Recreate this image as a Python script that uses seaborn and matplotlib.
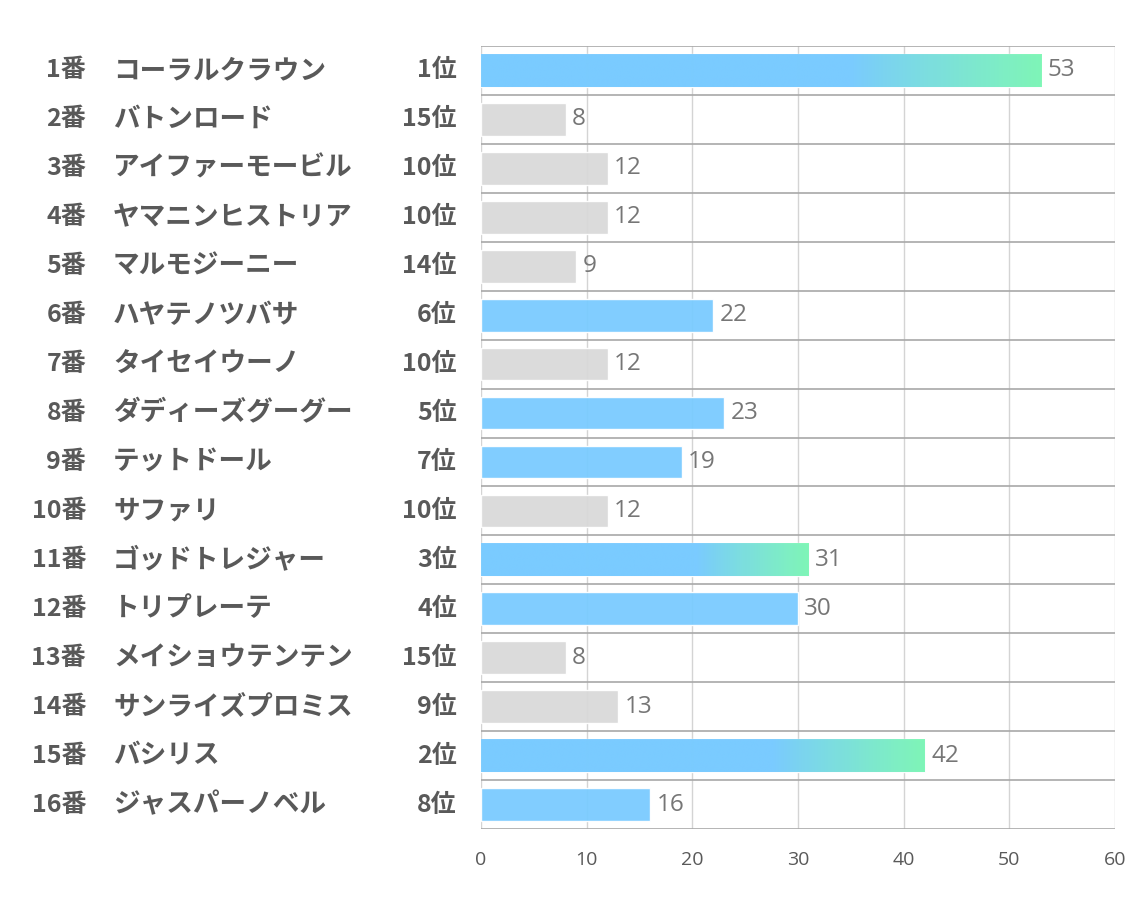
import numpy as np
import pandas as pd
import matplotlib
matplotlib.use('Agg')
import matplotlib.pyplot as plt
import matplotlib.colors as mcolors
import seaborn as sns

# データ
umaban = ['1番', '2番', '3番', '4番', '5番', '6番', '7番', '8番',
          '9番', '10番', '11番', '12番', '13番', '14番', '15番', '16番']
names = ['コーラルクラウン', 'バトンロード', 'アイファーモービル', 'ヤマニンヒストリア',
         'マルモジーニー', 'ハヤテノツバサ', 'タイセイウーノ', 'ダディーズグーグー',
         'テットドール', 'サファリ', 'ゴッドトレジャー', 'トリプレーテ',
         'メイショウテンテン', 'サンライズプロミス', 'バシリス', 'ジャスパーノベル']
ranks = [1, 15, 10, 10, 14, 6, 10, 5, 7, 10, 3, 4, 15, 9, 2, 8]
values = [53, 8, 12, 12, 9, 22, 12, 23, 19, 12, 31, 30, 8, 13, 42, 16]
x_ticks = [0, 10, 20, 30, 40, 50, 60]

df = pd.DataFrame({'umaban': umaban, 'name': names, 'rank': ranks, 'value': values})
df['group'] = np.where(df['rank'] <= 8, 'top', 'other')

sns.set_style('white')
plt.rcParams['font.family'] = ['Noto Sans CJK JP', 'DejaVu Sans']

BLUE = '#7ACBFF'
GRAY = '#D9D9D9'
GREEN = '#7FF8B4'

fig = plt.figure(figsize=(11.34, 9.07), dpi=100)
ax = fig.add_axes([481 / 1134, 1 - 829 / 907, 634 / 1134, 783 / 907])

# グリッド線
for x in x_ticks:
    ax.axvline(x, color='#D4D4D4', lw=1, zorder=0)
for i in range(len(df) + 1):
    ax.axhline(i - 0.5, color='#A8A8A8', lw=1.2, zorder=0)

sns.barplot(data=df, x='value', y='umaban', hue='group', orient='h',
            palette={'top': BLUE, 'other': GRAY}, width=0.67,
            legend=False, ax=ax, zorder=2, saturation=1, alpha=0.95)

# 上位3頭はグラデーション
grad_cmap = mcolors.LinearSegmentedColormap.from_list('g', [BLUE, GREEN])
for patch in ax.patches:
    w = patch.get_width()
    y0 = patch.get_y()
    h = patch.get_height()
    idx = int(round(y0 + h / 2))
    if df['rank'][idx] <= 3:
        t = np.linspace(0, 1, 300)
        grad = np.clip((t - 0.66) / 0.34, 0, 1) ** 0.9
        img = ax.imshow(grad[np.newaxis, :], cmap=grad_cmap, aspect='auto',
                        extent=(0, w, y0 + h, y0), zorder=3, alpha=0.95,
                        interpolation='bilinear')
        img.set_clip_path(patch)

# 値ラベル
for i, v in enumerate(values):
    ax.text(v + 0.6, i, str(v), va='center', ha='left', fontsize=17.5,
            color='#767676', family=['Open Sans', 'DejaVu Sans'])

# 左側のラベル
trans = ax.get_yaxis_transform()
for i in range(len(df)):
    ax.text((86 - 481) / 634, i, umaban[i], transform=trans, ha='right', va='center',
            fontsize=18, fontweight='bold', color='#595959')
    ax.text((113 - 481) / 634, i, names[i], transform=trans, ha='left', va='center',
            fontsize=19.2, fontweight='bold', color='#595959')
    ax.text((457 - 481) / 634, i, f'{ranks[i]}位', transform=trans, ha='right', va='center',
            fontsize=18, fontweight='bold', color='#595959')

ax.set_xlim(0, 60)
ax.set_ylim(len(df) - 0.5, -0.5)
ax.set_xticks(x_ticks)
ax.set_xticklabels([str(x) for x in x_ticks], family=['Open Sans', 'DejaVu Sans'])
ax.tick_params(axis='x', length=0, labelsize=14, labelcolor='#595959', pad=16)
ax.set_yticks([])
ax.set_xlabel('')
ax.set_ylabel('')
for s in ax.spines.values():
    s.set_visible(False)

plt.savefig('out.png', dpi=100)
plt.close()
